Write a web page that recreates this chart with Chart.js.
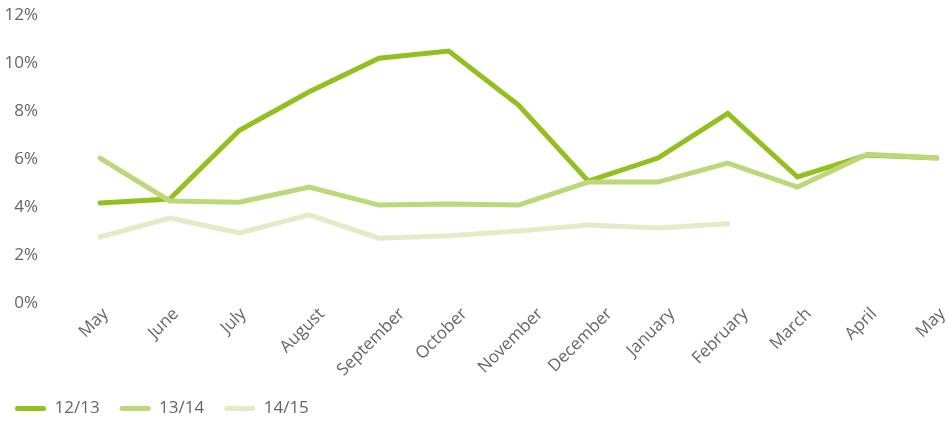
<!DOCTYPE html>
<html>
<head>
<meta charset="utf-8">
<script src="https://cdn.jsdelivr.net/npm/chart.js@4/dist/chart.umd.min.js"></script>
<style>
  html, body { margin: 0; padding: 0; background: #fff; }
  #wrap { width: 948px; height: 421px; position: relative; }
</style>
</head>
<body>
<div id="wrap"><canvas id="c"></canvas></div>
<script>
const categories = ["May","June","July","August","September","October","November","December","January","February","March","April","May"];
const series1213 = [4.17, 4.33, 7.2, 8.8, 10.2, 10.5, 8.25, 5.08, 6.04, 7.9, 5.25, 6.17, 6.04];
const series1314 = [6.04, 4.25, 4.2, 4.83, 4.08, 4.12, 4.08, 5.04, 5.04, 5.83, 4.83, 6.2, 6.04];
const series1415 = [2.75, 3.54, 2.92, 3.67, 2.7, 2.8, 3.0, 3.25, 3.13, 3.3, null, null, null];
const yTicks = [0, 2, 4, 6, 8, 10, 12];
const seriesNames = ["12/13", "13/14", "14/15"];
const seriesColors = ["#93c01f", "#bcd87a", "#e2ecc6"];
const seriesOrder = [2, 1, 0];

const fontFamily = "'Open Sans', 'Noto Sans', sans-serif";

// Shift rotated x labels to the right in proportion to their width (as in the reference)
const labelShiftPlugin = {
  id: 'labelShift',
  beforeDraw(chart) {
    const s = chart.scales.x;
    const items = s.getLabelItems(chart.chartArea);
    const ctx = chart.ctx;
    items.forEach(it => {
      if (it._shifted) return;
      ctx.save();
      ctx.font = it.font.string;
      const w = ctx.measureText(String(it.label)).width;
      ctx.restore();
      it.options.translation[0] += 0.32 * w - 5;
      it._shifted = true;
    });
  }
};

new Chart(document.getElementById('c'), {
  type: 'line',
  data: {
    labels: categories,
    datasets: [series1213, series1314, series1415].map((d, i) => ({
      label: seriesNames[i],
      data: d,
      order: seriesOrder[i],
      borderColor: seriesColors[i],
      backgroundColor: seriesColors[i],
      borderWidth: 5,
      pointRadius: 0,
      pointHoverRadius: 0,
      tension: 0,
      borderCapStyle: 'round',
      spanGaps: false,
      fill: false
    }))
  },
  plugins: [labelShiftPlugin],
  options: {
    responsive: true,
    maintainAspectRatio: false,
    animation: false,
    layout: { padding: { top: 15, right: 11, left: -5, bottom: -6 } },
    plugins: {
      tooltip: { enabled: false },
      legend: {
        position: 'bottom',
        align: 'start',
        labels: {
          boxWidth: 31,
          boxHeight: 5,
          useBorderRadius: true,
          borderRadius: 2.5,
          padding: 20,
          color: '#666',
          font: { family: fontFamily, size: 17 },
          sort: (a, b) => a.datasetIndex - b.datasetIndex,
          generateLabels: (chart) => chart.data.datasets.map((ds, i) => ({
            text: ds.label,
            fillStyle: ds.borderColor,
            strokeStyle: ds.borderColor,
            lineWidth: 0,
            borderRadius: 2.5,
            hidden: false,
            datasetIndex: i,
            fontColor: '#666'
          }))
        }
      }
    },
    scales: {
      x: {
        grid: { display: false },
        border: { display: false },
        ticks: {
          color: '#666',
          font: { family: fontFamily, size: 17 },
          minRotation: 45,
          maxRotation: 45,
          autoSkip: false,
          padding: -7,
          labelOffset: 0
        },
        afterFit: (s) => { s.height = 77; }
      },
      y: {
        min: 0,
        max: 12,
        grid: { display: false },
        border: { display: false },
        afterBuildTicks: (s) => { s.ticks = yTicks.map(v => ({ value: v })); },
        ticks: {
          color: '#666',
          font: { family: fontFamily, size: 17 },
          padding: 54,
          callback: (v) => v + '%'
        },
        afterFit: (s) => { s.width = 105; s.paddingTop = 10; s.paddingBottom = 10; }
      }
    }
  }
});
</script>
</body>
</html>
